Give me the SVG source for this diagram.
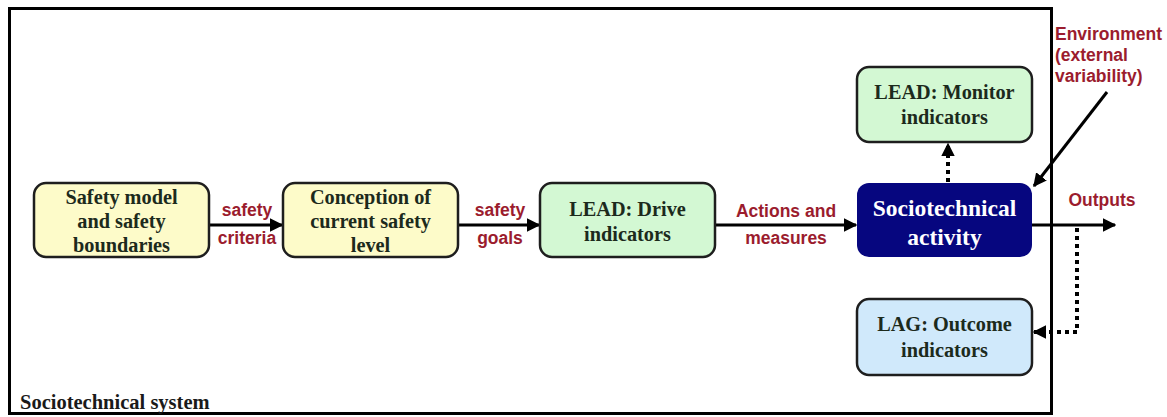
<svg xmlns="http://www.w3.org/2000/svg" width="1167" height="417" viewBox="0 0 1167 417">
  <style>
    .box { stroke: #1e1e1e; stroke-width: 2.5; }
    .yellow { fill: #fdfbc9; }
    .green { fill: #d3f8d3; }
    .blue { fill: #d0e9fb; }
    .navy { fill: #06067f; }
    .ntext { font-family: "Liberation Serif", "Times New Roman", Times, serif; font-weight: bold; font-size: 20.3px; fill: #1c2a1c; text-anchor: middle; }
    .wtext { font-family: "Liberation Serif", "Times New Roman", Times, serif; font-weight: bold; font-size: 23.5px; fill: #ffffff; text-anchor: middle; }
    .label { font-family: "Liberation Sans", Arial, sans-serif; font-weight: bold; font-size: 17.5px; fill: #9b1c2e; }
    .mid { text-anchor: middle; }
    .solid { stroke: #000; stroke-width: 3; fill: none; }
    .dotted { stroke: #000; stroke-width: 4; fill: none; stroke-dasharray: 4 4; }
  </style>
  <defs>
    <marker id="arrow" viewBox="0 0 10 10" refX="9" refY="5" markerWidth="4.5" markerHeight="4.5" orient="auto" markerUnits="strokeWidth">
      <path d="M0,0 L10,5 L0,10 z" fill="#000"/>
    </marker>
    <marker id="arrowDot" viewBox="0 0 10 10" refX="9" refY="5" markerWidth="3.4" markerHeight="3.4" orient="auto" markerUnits="strokeWidth">
      <path d="M0,0 L10,5 L0,10 z" fill="#000"/>
    </marker>
  </defs>

  <rect width="1167" height="417" fill="#ffffff"/>

  <!-- system boundary -->
  <g id="system">
    <rect x="9.5" y="8.5" width="1042" height="405" fill="none" stroke="#000" stroke-width="3"/>
    <text x="20" y="409" font-family="'Liberation Serif', 'Times New Roman', Times, serif" font-weight="bold" font-size="20.5" fill="#1a1a1a">Sociotechnical system</text>
  </g>

  <!-- connectors -->
  <g id="connectors">
    <line class="solid" x1="209" y1="225" x2="282" y2="225" marker-end="url(#arrow)"/>
    <line class="solid" x1="458" y1="225" x2="539" y2="225" marker-end="url(#arrow)"/>
    <line class="solid" x1="715" y1="225" x2="856" y2="225" marker-end="url(#arrow)"/>
    <line class="solid" x1="1032" y1="225" x2="1115" y2="225" marker-end="url(#arrow)"/>
    <line class="solid" x1="1107" y1="92" x2="1034" y2="186" marker-end="url(#arrow)"/>
    <line class="dotted" x1="948" y1="182" x2="948" y2="144" marker-end="url(#arrowDot)"/>
    <polyline class="dotted" points="1077,228 1077,332 1034,332" marker-end="url(#arrowDot)"/>
    <text class="label mid" x="247" y="216">safety</text>
    <text class="label mid" x="247" y="244">criteria</text>
    <text class="label mid" x="500" y="216">safety</text>
    <text class="label mid" x="500" y="244">goals</text>
    <text class="label mid" x="786" y="217">Actions and</text>
    <text class="label mid" x="786" y="244">measures</text>
    <text class="label mid" x="1102" y="206">Outputs</text>
    <text class="label" x="1055" y="40">Environment</text>
    <text class="label" x="1055" y="61">(external</text>
    <text class="label" x="1055" y="82">variability)</text>
  </g>

  <g id="safety-model">
    <rect class="box yellow" x="34" y="183" width="175" height="74" rx="12"/>
    <text class="ntext" x="121.5" y="204">Safety model</text>
    <text class="ntext" x="121.5" y="228">and safety</text>
    <text class="ntext" x="121.5" y="252">boundaries</text>
  </g>

  <g id="conception">
    <rect class="box yellow" x="283" y="183" width="175" height="74" rx="12"/>
    <text class="ntext" x="370.5" y="204">Conception of</text>
    <text class="ntext" x="370.5" y="228">current safety</text>
    <text class="ntext" x="370.5" y="252">level</text>
  </g>

  <g id="lead-drive">
    <rect class="box green" x="540" y="183" width="175" height="74" rx="12"/>
    <text class="ntext" x="627.5" y="216">LEAD: Drive</text>
    <text class="ntext" x="627.5" y="241">indicators</text>
  </g>

  <g id="activity">
    <rect class="navy" x="857" y="183" width="175" height="74" rx="12"/>
    <text class="wtext" x="944.5" y="216">Sociotechnical</text>
    <text class="wtext" x="944.5" y="245">activity</text>
  </g>

  <g id="lead-monitor">
    <rect class="box green" x="857" y="67" width="175" height="75" rx="12"/>
    <text class="ntext" x="944.5" y="99">LEAD: Monitor</text>
    <text class="ntext" x="944.5" y="124">indicators</text>
  </g>

  <g id="lag-outcome">
    <rect class="box blue" x="857" y="299" width="175" height="76" rx="12"/>
    <text class="ntext" x="944.5" y="331">LAG: Outcome</text>
    <text class="ntext" x="944.5" y="357">indicators</text>
  </g>
</svg>
